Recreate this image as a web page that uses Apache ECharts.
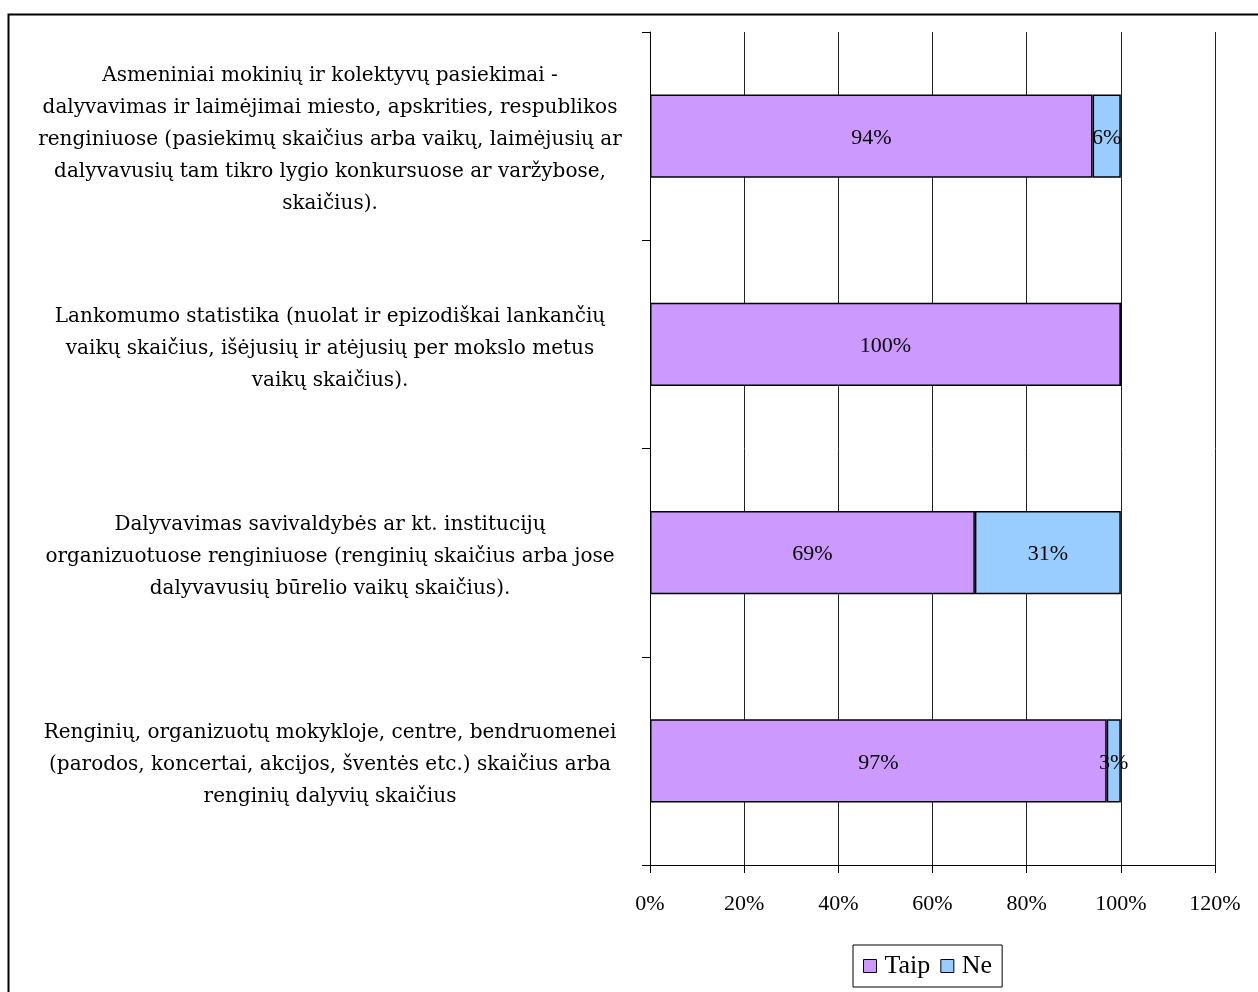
<!DOCTYPE html>
<html>
<head>
<meta charset="utf-8">
<script src="https://cdn.jsdelivr.net/npm/echarts@6/dist/echarts.min.js"></script>
<style>
html,body{margin:0;padding:0;background:#fff;}
#c{width:1258px;height:992px;}
</style>
</head>
<body>
<div id="c"></div>
<script>
var categories = [
  "Asmeniniai mokinių ir kolektyvų pasiekimai -\ndalyvavimas ir laimėjimai miesto, apskrities, respublikos\nrenginiuose (pasiekimų skaičius arba vaikų, laimėjusių ar\ndalyvavusių tam tikro lygio konkursuose ar varžybose,\nskaičius).",
  "Lankomumo statistika (nuolat ir epizodiškai lankančių\nvaikų skaičius, išėjusių ir atėjusių per mokslo metus\nvaikų skaičius).",
  "Dalyvavimas savivaldybės ar kt. institucijų\norganizuotuose renginiuose (renginių skaičius arba jose\ndalyvavusių būrelio vaikų skaičius).",
  "Renginių, organizuotų mokykloje, centre, bendruomenei\n(parodos, koncertai, akcijos, šventės etc.) skaičius arba\nrenginių dalyvių skaičius"
];
var seriesNames = ["Taip", "Ne"];
var taip = [94, 100, 69, 97];
var ne = [6, 0, 31, 3];

var font = "'Liberation Serif', 'Times New Roman', serif";
var catFont = "'DejaVu Serif', serif";
var chart = echarts.init(document.getElementById('c'));
var labelOpt = {
  show: true, position: 'inside', color: '#000', fontFamily: font, fontSize: 22,
  offset: [0, 2],
  formatter: function (p) { return p.value > 0 ? p.value + '%' : ''; }
};
var catStyle = { fontFamily: catFont, fontSize: 20, color: '#000', lineHeight: 32, align: 'center', padding: [8, 0, 0, 0] };
chart.setOption({
  animation: false,
  backgroundColor: '#fff',
  graphic: [{
    type: 'rect', left: 6, top: 12,
    shape: { width: 1260, height: 1000 },
    style: { fill: 'none', stroke: '#000', lineWidth: 2 }
  }],
  grid: { left: 650, right: 43, top: 32, bottom: 127, containLabel: false },
  legend: {
    data: seriesNames,
    left: 853, top: 945,
    borderColor: '#000', borderWidth: 1,
    padding: [8, 10, 8, 10],
    itemGap: 10,
    itemWidth: 13, itemHeight: 13,
    icon: 'rect',
    itemStyle: { borderColor: '#000', borderWidth: 1 },
    textStyle: { fontFamily: font, fontSize: 26, color: '#000', padding: [3, 0, 0, 3] }
  },
  xAxis: {
    type: 'value', min: 0, max: 120, interval: 20,
    axisLine: { show: true, lineStyle: { color: '#000', width: 1 } },
    axisTick: { show: true, length: 8, lineStyle: { color: '#000' } },
    axisLabel: { formatter: '{value}%', fontFamily: font, fontSize: 22, color: '#000', margin: 28 },
    splitLine: { show: true, lineStyle: { color: '#222', width: 1 } }
  },
  yAxis: {
    type: 'category', data: categories, inverse: true,
    axisLine: { show: true, lineStyle: { color: '#000', width: 1 } },
    axisTick: { show: true, length: 8, lineStyle: { color: '#000' } },
    axisLabel: {
      fontFamily: catFont, fontSize: 20, color: '#000', lineHeight: 32,
      align: 'center', margin: 320,
      formatter: function (v) {
        return v.split('\n').map(function (l) { return '{t|' + l + '}'; }).join('\n');
      },
      rich: { t: catStyle }
    }
  },
  series: [
    {
      name: seriesNames[0], type: 'bar', stack: 's', data: taip, barWidth: '40%',
      itemStyle: { color: '#CC99FF', borderColor: '#000', borderWidth: 1.5 },
      label: labelOpt
    },
    {
      name: seriesNames[1], type: 'bar', stack: 's', data: ne, barWidth: '40%',
      itemStyle: { color: '#99CCFF', borderColor: '#000', borderWidth: 1.5 },
      label: labelOpt
    }
  ]
});
</script>
</body>
</html>
